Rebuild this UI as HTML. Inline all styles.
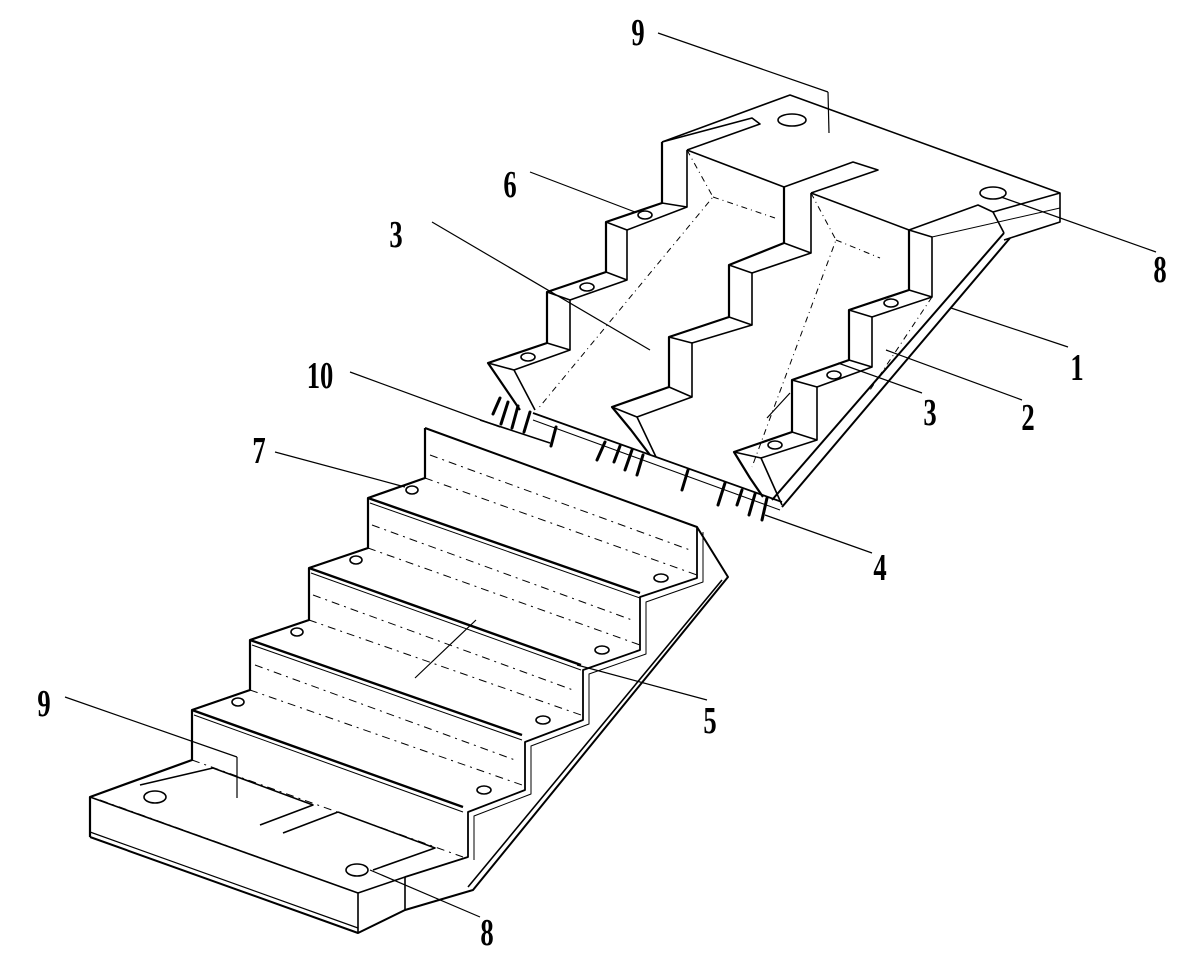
<!DOCTYPE html>
<html><head><meta charset="utf-8"><style>
html,body{margin:0;padding:0;background:#fff}
svg{display:block}
text{font-family:"Liberation Serif",serif;font-weight:bold;font-size:38px;fill:#000}
</style></head><body>
<svg width="1200" height="966" viewBox="0 0 1200 966" xmlns="http://www.w3.org/2000/svg">
<g fill="none" stroke="#000" stroke-width="1.6" stroke-linejoin="round">
<!-- ===== UPPER FLIGHT ===== -->
<polyline points="662,142 790,95 1060,193 1060,222 1004,240"/>
<polyline points="662,142 752,118 760,124 687,150"/>
<polyline points="784,187 853,162 878,170 811,193"/>
<line x1="687" y1="150" x2="784" y2="187"/>
<line x1="811" y1="193" x2="909" y2="230"/>
<polyline points="909,230 978,205 993,212 1004,233"/>
<line x1="993" y1="212" x2="1060" y2="193"/>
<line x1="932" y1="237" x2="1060" y2="208" stroke-width="1"/>
<ellipse cx="792" cy="120" rx="14" ry="6"/>
<ellipse cx="993" cy="193" rx="13" ry="6"/>
<!-- left stringer -->
<polyline stroke-width="2.2" points="662,142 662,203 606,222 606,272 547,292 547,343 488,363 503,385 520,410"/>
<polyline points="662,203 687,207 687,150"/>
<polyline points="606,222 627,230 627,280 606,272"/>
<polyline points="547,292 570,300 570,350 547,343"/>
<polyline points="488,363 514,370 535,410"/>
<line x1="627" y1="230" x2="687" y2="207"/>
<line x1="570" y1="300" x2="627" y2="280"/>
<line x1="514" y1="370" x2="570" y2="350"/>
<ellipse cx="645" cy="215" rx="7" ry="4"/>
<ellipse cx="587" cy="287" rx="7" ry="4"/>
<ellipse cx="528" cy="357" rx="7" ry="4"/>
<!-- middle stringer -->
<polyline stroke-width="2.2" points="784,187 784,243 729,265 729,317 669,337 669,387 612,407 631,430 650,455"/>
<polyline points="811,193 811,253 784,243"/>
<polyline points="729,265 752,273 752,325 729,317"/>
<polyline points="669,337 692,343 692,397 669,387"/>
<polyline points="612,407 637,417 656,457"/>
<line x1="752" y1="273" x2="811" y2="253"/>
<line x1="692" y1="343" x2="752" y2="325"/>
<line x1="637" y1="417" x2="692" y2="397"/>
<!-- right stringer -->
<polyline stroke-width="2.2" points="909,230 909,290 849,310 849,360 792,380 792,432 734,452 750,478 763,497"/>
<polyline points="909,230 932,237 932,297 909,290"/>
<polyline points="849,310 872,317 872,367 849,360"/>
<polyline points="792,380 817,387 817,440 792,432"/>
<polyline points="734,452 761,458 782,505"/>
<line x1="872" y1="317" x2="932" y2="297"/>
<line x1="817" y1="387" x2="872" y2="367"/>
<line x1="761" y1="458" x2="817" y2="440"/>
<line x1="1004" y1="233" x2="772" y2="500" stroke-width="2"/>
<line x1="1010" y1="238" x2="782" y2="507" stroke-width="2"/>
<ellipse cx="891" cy="303" rx="7" ry="4"/>
<ellipse cx="834" cy="375" rx="7" ry="4"/>
<ellipse cx="775" cy="445" rx="7" ry="4"/>
<g stroke-dasharray="6,4,1,4" stroke-width="1">
<polyline points="687,150 713,197 537,410"/>
<line x1="713" y1="197" x2="775" y2="218"/>
<polyline points="811,193 836,240 752,467"/>
<line x1="836" y1="240" x2="880" y2="258"/>
<line x1="932" y1="297" x2="870" y2="390"/>
</g>
<!-- rebar strip -->
<line x1="533" y1="413" x2="782" y2="502" stroke-width="1.8"/>
<line x1="533" y1="420" x2="780" y2="510" stroke-width="1"/>
<line x1="480" y1="420" x2="550" y2="443"/>
<g stroke-width="3" stroke-linecap="round">
<line x1="500" y1="398" x2="493" y2="414"/>
<line x1="508" y1="402" x2="501" y2="424"/>
<line x1="518" y1="406" x2="512" y2="428"/>
<line x1="530" y1="412" x2="524" y2="432"/>
<line x1="556" y1="427" x2="551" y2="446"/>
<line x1="605" y1="442" x2="597" y2="460"/>
<line x1="620" y1="446" x2="614" y2="462"/>
<line x1="632" y1="450" x2="625" y2="470"/>
<line x1="643" y1="455" x2="637" y2="475"/>
<line x1="688" y1="470" x2="682" y2="490"/>
<line x1="725" y1="483" x2="718" y2="505"/>
<line x1="742" y1="490" x2="737" y2="505"/>
<line x1="755" y1="494" x2="749" y2="515"/>
<line x1="767" y1="498" x2="762" y2="520"/>
</g>
<!-- ===== LOWER FLIGHT ===== -->
<polyline stroke-width="2.2" points="425,428 425,478 368,498 368,548 309,568 309,620 250,640 250,690 192,710 192,760 90,797 90,837"/>
<polyline stroke-width="2" points="425,428 697,527 728,577 473,890 405,910 358,933 90,837"/>
<line x1="722" y1="580" x2="468" y2="887" stroke-width="1.6"/>
<line x1="90" y1="832" x2="358" y2="928" stroke-width="1.2"/>
<polyline points="90,797 358,893 358,933"/>
<polyline points="358,893 405,877 405,910"/>
<!-- right profile of steps -->
<polyline stroke-width="1.8" points="697,527 697,578 640,597 640,650 583,670 583,720 525,742 525,790 468,812 468,857 405,877"/>
<polyline stroke-width="1" points="703,532 703,582 646,602 646,654 589,674 589,724 531,746 531,794 474,816 474,860"/>
<!-- treads -->
<g stroke-width="2.4">
<line x1="368" y1="498" x2="640" y2="593"/>
<line x1="309" y1="568" x2="581" y2="665"/>
<line x1="250" y1="640" x2="522" y2="735"/>
<line x1="192" y1="710" x2="463" y2="807"/>
</g>
<g stroke-width="1">
<line x1="370" y1="503" x2="640" y2="598"/>
<line x1="311" y1="573" x2="581" y2="670"/>
<line x1="252" y1="645" x2="522" y2="740"/>
<line x1="194" y1="715" x2="463" y2="812"/>
</g>
<line x1="425" y1="478" x2="368" y2="498"/>
<line x1="368" y1="548" x2="309" y2="568"/>
<line x1="309" y1="620" x2="250" y2="640"/>
<line x1="250" y1="690" x2="192" y2="710"/>
<g stroke-dasharray="8,5,2,5" stroke-width="1">
<line x1="425" y1="478" x2="697" y2="575"/>
<line x1="368" y1="548" x2="640" y2="645"/>
<line x1="309" y1="620" x2="581" y2="715"/>
<line x1="250" y1="690" x2="522" y2="785"/>
<line x1="192" y1="760" x2="463" y2="857"/>
<line x1="100" y1="800" x2="358" y2="893"/>
<line x1="430" y1="455" x2="690" y2="550"/>
<line x1="372" y1="525" x2="632" y2="620"/>
<line x1="313" y1="595" x2="573" y2="690"/>
<line x1="255" y1="665" x2="515" y2="760"/>
</g>
<polyline points="140,785 213,768 313,805 260,825"/>
<polyline points="338,812 283,833"/>
<polyline points="338,812 435,848 373,870"/>
<ellipse cx="412" cy="490" rx="6" ry="4"/>
<ellipse cx="356" cy="560" rx="6" ry="4"/>
<ellipse cx="297" cy="632" rx="6" ry="4"/>
<ellipse cx="238" cy="702" rx="6" ry="4"/>
<ellipse cx="661" cy="578" rx="7" ry="4"/>
<ellipse cx="602" cy="650" rx="7" ry="4"/>
<ellipse cx="543" cy="720" rx="7" ry="4"/>
<ellipse cx="484" cy="790" rx="7" ry="4"/>
<ellipse cx="155" cy="797" rx="11" ry="6"/>
<ellipse cx="357" cy="870" rx="11" ry="6"/>
</g>
<!-- ===== LEADERS ===== -->
<g stroke="#000" stroke-width="1.2" fill="none">
<line x1="658" y1="33" x2="828" y2="92"/>
<line x1="828" y1="92" x2="829" y2="133"/>
<line x1="1001" y1="197" x2="1156" y2="252"/>
<line x1="530" y1="172" x2="635" y2="212"/>
<line x1="432" y1="222" x2="650" y2="350"/>
<line x1="350" y1="372" x2="500" y2="427"/>
<line x1="951" y1="308" x2="1068" y2="347"/>
<line x1="886" y1="350" x2="1022" y2="400"/>
<line x1="838" y1="363" x2="922" y2="393"/>
<line x1="790" y1="393" x2="767" y2="418"/>
<line x1="765" y1="515" x2="872" y2="553"/>
<line x1="275" y1="452" x2="405" y2="487"/>
<line x1="476" y1="620" x2="415" y2="678"/>
<line x1="577" y1="665" x2="707" y2="700"/>
<line x1="65" y1="697" x2="237" y2="757"/>
<line x1="237" y1="757" x2="237" y2="798"/>
<line x1="370" y1="870" x2="480" y2="917"/>
</g>
<g text-anchor="middle">
<text transform="translate(638,45) scale(0.7,1)">9</text>
<text transform="translate(510,197) scale(0.7,1)">6</text>
<text transform="translate(396,247) scale(0.7,1)">3</text>
<text transform="translate(320,388) scale(0.7,1)">10</text>
<text transform="translate(259,463) scale(0.7,1)">7</text>
<text transform="translate(1160,282) scale(0.7,1)">8</text>
<text transform="translate(1077,380) scale(0.7,1)">1</text>
<text transform="translate(1028,430) scale(0.7,1)">2</text>
<text transform="translate(930,425) scale(0.7,1)">3</text>
<text transform="translate(880,580) scale(0.7,1)">4</text>
<text transform="translate(710,733) scale(0.7,1)">5</text>
<text transform="translate(44,716) scale(0.7,1)">9</text>
<text transform="translate(487,945) scale(0.7,1)">8</text>
</g>
</svg>
</body></html>
